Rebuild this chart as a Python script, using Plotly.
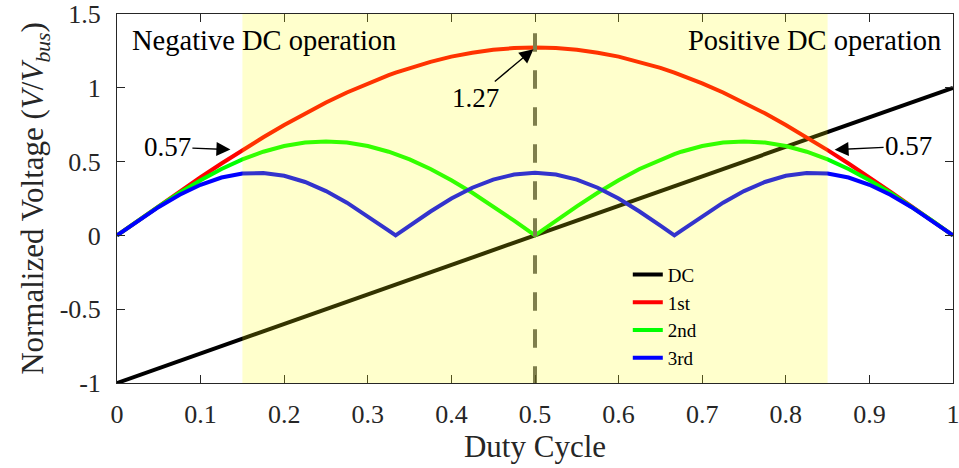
import plotly.graph_objects as go

# ---- data ----
duty = [0, 0.025, 0.05, 0.075, 0.1, 0.125, 0.15, 0.175, 0.2, 0.225, 0.25, 0.275, 0.3, 0.325, 0.3333,
        0.35, 0.375, 0.4, 0.425, 0.45, 0.475, 0.5, 0.525, 0.55, 0.575, 0.6, 0.625, 0.65, 0.6667,
        0.675, 0.7, 0.725, 0.75, 0.775, 0.8, 0.825, 0.85, 0.875, 0.9, 0.925, 0.95, 0.975, 1]

first = [0, 0.100, 0.199, 0.297, 0.394, 0.487, 0.578, 0.665, 0.748, 0.827, 0.900, 0.968, 1.030, 1.086, 1.103,
         1.135, 1.176, 1.211, 1.238, 1.258, 1.269, 1.273, 1.269, 1.258, 1.238, 1.211, 1.176, 1.135, 1.103,
         1.086, 1.030, 0.968, 0.900, 0.827, 0.748, 0.665, 0.578, 0.487, 0.394, 0.297, 0.199, 0.100, 0]

second = [0, 0.100, 0.197, 0.289, 0.374, 0.450, 0.515, 0.567, 0.606, 0.629, 0.637, 0.629, 0.606, 0.567, 0.551,
          0.515, 0.450, 0.374, 0.289, 0.197, 0.100, 0, 0.100, 0.197, 0.289, 0.374, 0.450, 0.515, 0.551,
          0.567, 0.606, 0.629, 0.637, 0.629, 0.606, 0.567, 0.515, 0.450, 0.374, 0.289, 0.197, 0.100, 0]

third = [0, 0.099, 0.193, 0.276, 0.343, 0.392, 0.419, 0.423, 0.404, 0.362, 0.300, 0.222, 0.131, 0.033, 0,
         0.066, 0.162, 0.250, 0.323, 0.378, 0.413, 0.424, 0.413, 0.378, 0.323, 0.250, 0.162, 0.066, 0,
         0.033, 0.131, 0.222, 0.300, 0.362, 0.404, 0.423, 0.419, 0.392, 0.343, 0.276, 0.193, 0.099, 0]

dc_x = [0, 1]
dc_y = [-1, 1]

region_x = [0.15, 0.85]          # shaded operating region
peak_x = 0.5                      # dashed marker
peak_line_y = [1.37, -1]
peak_value = 1.27
edge_value = 0.578                # first harmonic at region edges

x_ticks = [0, 0.1, 0.2, 0.3, 0.4, 0.5, 0.6, 0.7, 0.8, 0.9, 1]
x_tick_text = ["0", "0.1", "0.2", "0.3", "0.4", "0.5", "0.6", "0.7", "0.8", "0.9", "1"]
y_ticks = [-1, -0.5, 0, 0.5, 1, 1.5]
y_tick_text = ["-1", "-0.5", "0", "0.5", "1", "1.5"]

FONT = "Liberation Serif"
AX = "#262626"

fig = go.Figure()
fig.add_trace(go.Scatter(x=dc_x, y=dc_y, mode="lines", name="DC",
                         line=dict(color="#000000", width=4)))
fig.add_trace(go.Scatter(x=duty, y=first, mode="lines", name="1st",
                         line=dict(color="#ff0000", width=4)))
fig.add_trace(go.Scatter(x=duty, y=second, mode="lines", name="2nd",
                         line=dict(color="#00ff00", width=4)))
fig.add_trace(go.Scatter(x=duty, y=third, mode="lines", name="3rd",
                         line=dict(color="#0000ff", width=4)))
fig.add_trace(go.Scatter(x=[peak_x, peak_x], y=peak_line_y, mode="lines", showlegend=False,
                         hoverinfo="skip",
                         line=dict(color="#5f5f5f", width=4, dash="18.5px,18.5px")))

fig.add_shape(type="rect", xref="x", yref="paper", x0=region_x[0], x1=region_x[1], y0=0, y1=1,
              fillcolor="rgba(255,255,0,0.2)", line=dict(width=0), layer="above")

ann_font = dict(family=FONT, size=28.5, color="#000000")
fig.add_annotation(x=0.016, y=1.32, xref="x", yref="y", text="Negative DC operation",
                   showarrow=False, xanchor="left", yanchor="middle", font=ann_font)
fig.add_annotation(x=0.988, y=1.32, xref="x", yref="y", text="Positive DC operation",
                   showarrow=False, xanchor="right", yanchor="middle", font=ann_font)
num_font = dict(family=FONT, size=27, color="#000000")
fig.add_annotation(x=peak_x, y=peak_value, xref="x", yref="y", text="1.27",
                   showarrow=True, ax=-60, ay=50, arrowhead=2, arrowsize=2, arrowwidth=1.4,
                   arrowcolor="#000000", standoff=2, font=num_font)
fig.add_annotation(x=region_x[0], y=edge_value, xref="x", yref="y", text="0.57",
                   showarrow=True, ax=-75, ay=-3, arrowhead=2, arrowsize=2, arrowwidth=1.4,
                   arrowcolor="#000000", standoff=12, font=num_font)
fig.add_annotation(x=region_x[1], y=edge_value, xref="x", yref="y", text="0.57",
                   showarrow=True, ax=81, ay=-4, arrowhead=2, arrowsize=2, arrowwidth=1.4,
                   arrowcolor="#000000", standoff=7, font=num_font)

fig.update_layout(
    width=959, height=468,
    margin=dict(l=117, r=6, t=14, b=85, autoexpand=False),
    paper_bgcolor="white", plot_bgcolor="white",
    font=dict(family=FONT, color=AX),
    legend=dict(x=0.611, y=0.345, xanchor="left", yanchor="top",
                bgcolor="rgba(0,0,0,0)", borderwidth=0, tracegroupgap=0,
                font=dict(family=FONT, size=19, color="#000000")),
)
fig.update_xaxes(range=[0, 1], tickvals=x_ticks, ticktext=x_tick_text, automargin=False,
                 ticklabeloverflow="allow",
                 showline=True, linecolor=AX, linewidth=1, mirror="ticks",
                 ticks="inside", ticklen=8, tickcolor=AX, showgrid=False, zeroline=False,
                 tickfont=dict(family=FONT, size=26, color=AX), ticklabelstandoff=8,
                 title=dict(text="Duty Cycle", font=dict(family=FONT, size=31, color=AX), standoff=4))
fig.update_yaxes(range=[-1, 1.5], tickvals=y_ticks, ticktext=y_tick_text, automargin=False,
                 ticklabeloverflow="allow",
                 showline=True, linecolor=AX, linewidth=1, mirror="ticks",
                 ticks="inside", ticklen=8, tickcolor=AX, showgrid=False, zeroline=False,
                 tickfont=dict(family=FONT, size=26, color=AX), ticklabelstandoff=10,
                 title=dict(text="Normalized Voltage (<i>V</i>/<i>V<sub>bus</sub></i>)",
                            font=dict(family=FONT, size=31, color=AX), standoff=6))

fig.write_html("out.html")
